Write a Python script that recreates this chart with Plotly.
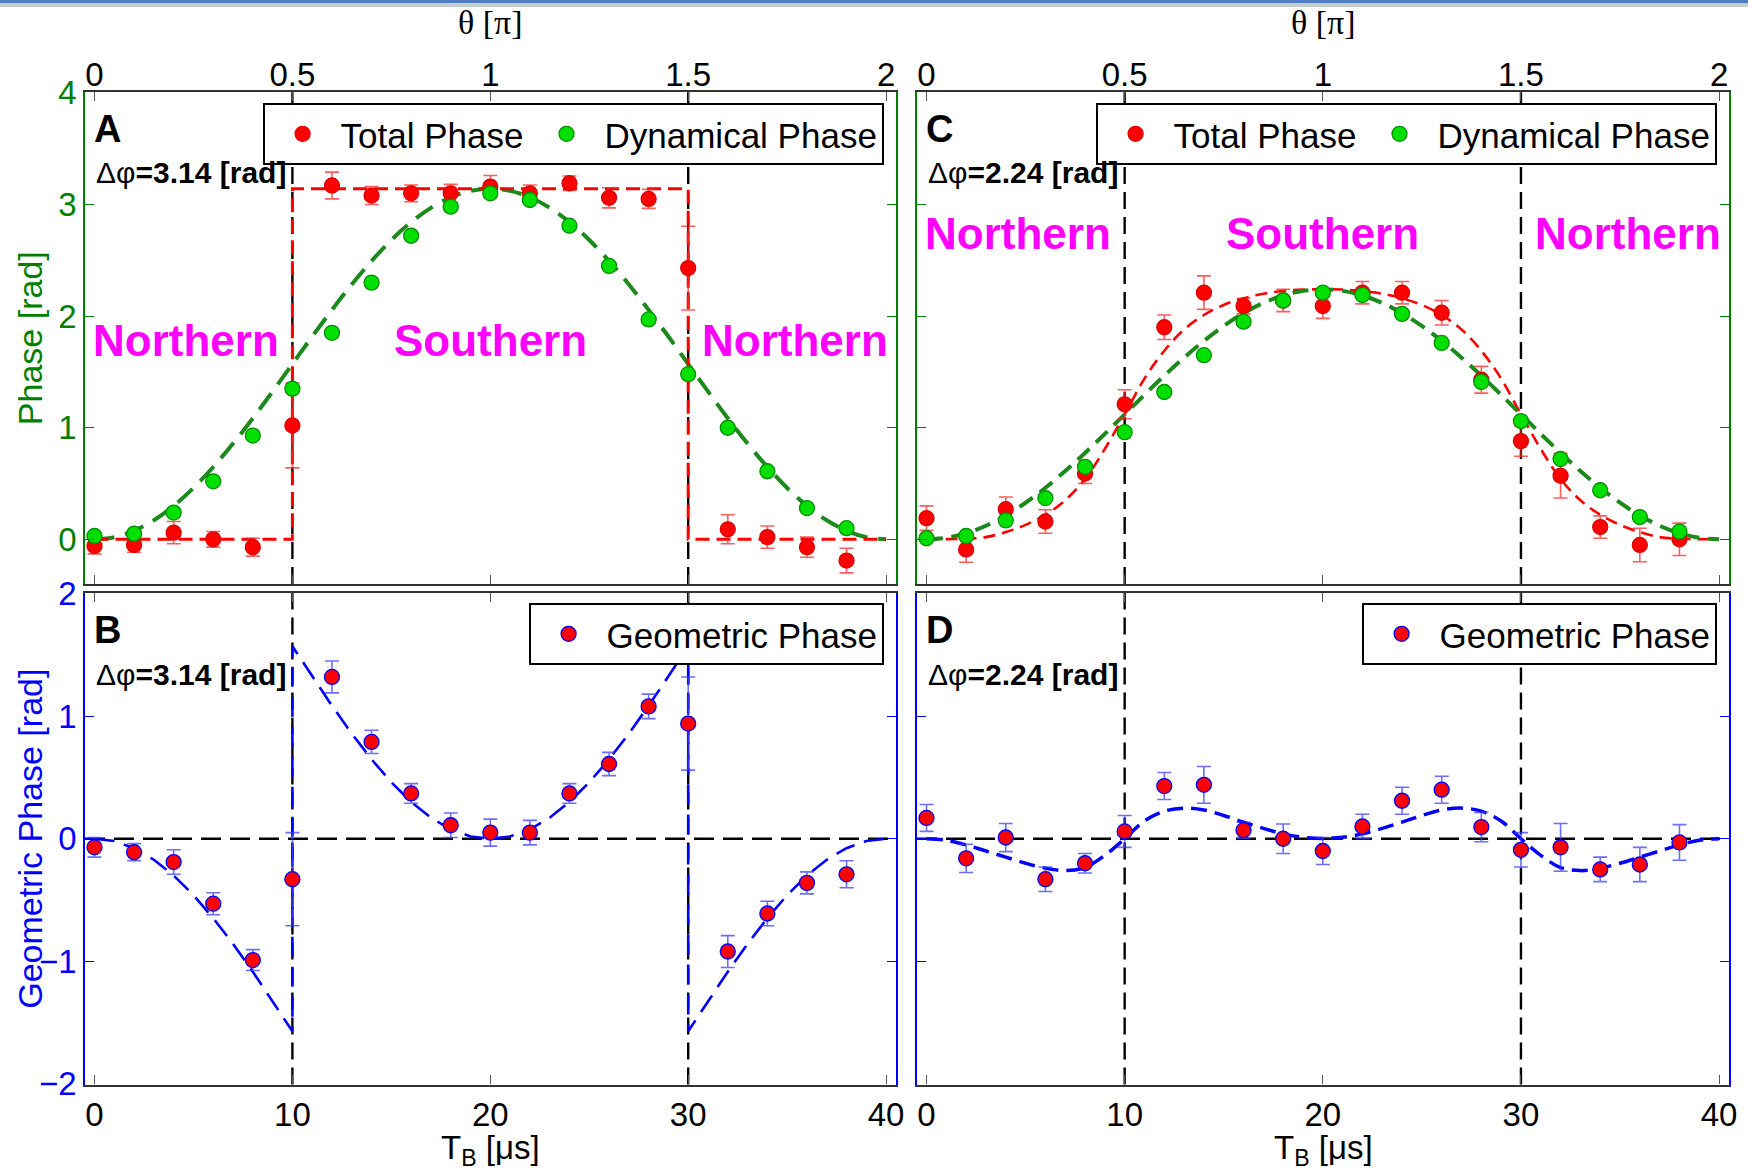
import plotly.graph_objects as go

# ---------------- data ----------------
T_us = [0, 2, 4, 6, 8, 10, 12, 14, 16, 18, 20, 22, 24, 26, 28, 30, 32, 34, 36, 38]
theta_ticks_us = [0, 10, 20, 30, 40]
theta_labels = ["0", "0.5", "1", "1.5", "2"]
time_labels = ["0", "10", "20", "30", "40"]
boundaries_us = [10, 30]
zero_ref = 0

# Panel A (delta phi = 3.14)
total_A = [-0.06, -0.05, 0.06, 0.00, -0.07, 1.02, 3.17, 3.08, 3.10, 3.10,
           3.16, 3.10, 3.19, 3.06, 3.05, 2.43, 0.09, 0.02, -0.07, -0.19]
total_A_err = [0.07, 0.065, 0.10, 0.07, 0.08, 0.38, 0.12, 0.08, 0.075, 0.08,
               0.10, 0.075, 0.065, 0.09, 0.085, 0.375, 0.13, 0.10, 0.09, 0.11]
dyn_A = [0.03, 0.05, 0.24, 0.52, 0.93, 1.35, 1.85, 2.30, 2.72, 2.98,
         3.10, 3.04, 2.81, 2.45, 1.97, 1.48, 1.00, 0.61, 0.28, 0.10]

# Panel B (geometric, delta phi = 3.14)
geo_B = [-0.07, -0.11, -0.19, -0.53, -0.99, -0.33, 1.32, 0.79, 0.37, 0.11,
         0.05, 0.05, 0.37, 0.61, 1.08, 0.94, -0.92, -0.61, -0.36, -0.29]
geo_B_err = [0.08, 0.07, 0.10, 0.09, 0.085, 0.38, 0.13, 0.095, 0.08, 0.10,
             0.11, 0.10, 0.08, 0.095, 0.10, 0.38, 0.13, 0.10, 0.09, 0.11]

# Panel C (delta phi = 2.24)
total_C = [0.19, -0.09, 0.27, 0.16, 0.59, 1.21, 1.90, 2.21, 2.09, 2.14,
           2.09, 2.21, 2.21, 2.03, 1.43, 0.88, 0.57, 0.11, -0.05, 0.00]
total_C_err = [0.11, 0.115, 0.11, 0.105, 0.09, 0.13, 0.11, 0.15, 0.07, 0.10,
               0.11, 0.10, 0.10, 0.11, 0.12, 0.135, 0.20, 0.10, 0.15, 0.145]
dyn_C = [0.01, 0.03, 0.17, 0.37, 0.65, 0.96, 1.32, 1.65, 1.95, 2.14,
         2.21, 2.19, 2.02, 1.76, 1.41, 1.06, 0.72, 0.44, 0.20, 0.07]

# Panel D (geometric, delta phi = 2.24)
geo_D = [0.17, -0.16, 0.01, -0.33, -0.20, 0.06, 0.43, 0.44, 0.07, 0.00,
         -0.10, 0.10, 0.31, 0.40, 0.095, -0.09, -0.07, -0.25, -0.21, -0.03]
geo_D_err = [0.11, 0.115, 0.115, 0.10, 0.08, 0.13, 0.11, 0.15, 0.065, 0.12,
             0.11, 0.10, 0.11, 0.11, 0.12, 0.14, 0.195, 0.10, 0.14, 0.145]

# Fitted (dashed) curves, read at 1 us steps
fit_x = [0, 1, 2, 3, 4, 5, 6, 7, 8, 9, 10, 11, 12, 13, 14, 15, 16, 17, 18, 19, 20,
         21, 22, 23, 24, 25, 26, 27, 28, 29, 30, 31, 32, 33, 34, 35, 36, 37, 38, 39, 40]
dyn_fit_A = [0.000, 0.019, 0.077, 0.171, 0.300, 0.460, 0.648, 0.858, 1.085, 1.325, 1.571,
             1.817, 2.056, 2.284, 2.494, 2.682, 2.842, 2.970, 3.065, 3.122, 3.142,
             3.122, 3.065, 2.970, 2.842, 2.682, 2.494, 2.284, 2.056, 1.817, 1.571,
             1.325, 1.085, 0.858, 0.648, 0.460, 0.300, 0.171, 0.077, 0.019, 0.000]
total_fit_A_x = [0, 10, 10, 30, 30, 40]
total_fit_A_y = [0.0, 0.0, 3.14, 3.14, 0.0, 0.0]

geo_fit_B_x = [0, 1, 2, 3, 4, 5, 6, 7, 8, 9, 10,
               10, 11, 12, 13, 14, 15, 16, 17, 18, 19, 20, 21, 22, 23, 24, 25, 26, 27, 28, 29, 30,
               30, 31, 32, 33, 34, 35, 36, 37, 38, 39, 40]
geo_fit_B_y = [0.000, -0.019, -0.077, -0.171, -0.300, -0.460, -0.648, -0.858, -1.085, -1.325, -1.571,
               1.571, 1.325, 1.085, 0.858, 0.648, 0.460, 0.300, 0.171, 0.077, 0.019, 0.000,
               0.019, 0.077, 0.171, 0.300, 0.460, 0.648, 0.858, 1.085, 1.325, 1.571,
               -1.571, -1.325, -1.085, -0.858, -0.648, -0.460, -0.300, -0.171, -0.077, -0.019, 0.000]

dyn_fit_C = [0.000, 0.014, 0.055, 0.122, 0.214, 0.328, 0.462, 0.612, 0.774, 0.945, 1.120,
             1.295, 1.466, 1.628, 1.778, 1.912, 2.026, 2.118, 2.185, 2.226, 2.240,
             2.226, 2.185, 2.118, 2.026, 1.912, 1.778, 1.628, 1.466, 1.295, 1.120,
             0.945, 0.774, 0.612, 0.462, 0.328, 0.214, 0.122, 0.055, 0.014, 0.000]
total_fit_C = [0.000, 0.002, 0.005, 0.020, 0.065, 0.130, 0.220, 0.350, 0.540, 0.810, 1.120,
               1.440, 1.690, 1.880, 2.010, 2.100, 2.160, 2.200, 2.225, 2.238, 2.240,
               2.238, 2.225, 2.200, 2.160, 2.100, 2.010, 1.880, 1.690, 1.440, 1.120,
               0.810, 0.540, 0.350, 0.220, 0.130, 0.065, 0.020, 0.005, 0.002, 0.000]
geo_fit_D = [0.000, -0.012, -0.050, -0.100, -0.150, -0.200, -0.240, -0.260, -0.235, -0.135, 0.000,
             0.145, 0.225, 0.250, 0.235, 0.190, 0.135, 0.085, 0.040, 0.012, 0.003,
             0.012, 0.040, 0.085, 0.135, 0.190, 0.235, 0.250, 0.225, 0.145, 0.000,
             -0.135, -0.235, -0.260, -0.240, -0.200, -0.150, -0.100, -0.050, -0.012, 0.000]

region_names = ["Northern", "Southern", "Northern"]
region_x_us = [4.6, 20.0, 35.4]
region_y_A = 1.78
region_y_C = 2.74
delta_phi_A = "3.14"
delta_phi_C = "2.24"

# ---------------- styling ----------------
W, H = 1748, 1176
GREEN_AX = "#008000"
BLUE_AX = "#0000ff"
FIT_GREEN = "#1b8a1b"
PT_GREEN = "#00e000"
PT_GREEN_EDGE = "#009000"
RED = "#ff0000"
MAGENTA = "#ff00ff"
SANS = "Liberation Sans, Arial, Helvetica, sans-serif"
SERIF = "Liberation Serif, Times New Roman, serif"


def px_x(p):
    return p / W


def px_y(p):
    return (H - p) / H


xdom_L = [px_x(85), px_x(896)]
xdom_R = [px_x(917), px_x(1729)]
ydom_T = [px_y(584), px_y(92.3)]
ydom_B = [px_y(1084.5), px_y(593)]
XR = [-0.48, 40.5]

fig = go.Figure()


def fit_line(x, y, xa, ya, color, width, dash, shape="linear"):
    fig.add_trace(go.Scatter(x=x, y=y, xaxis=xa, yaxis=ya, mode="lines",
                             line=dict(color=color, width=width, dash=dash, shape=shape),
                             showlegend=False, hoverinfo="skip"))


def points(y, err, xa, ya, name, fill, edge, errcolor, legend, size=15):
    kw = {}
    if err is not None:
        kw["error_y"] = dict(type="data", array=err, visible=True, color=errcolor,
                             thickness=1.6, width=7)
    fig.add_trace(go.Scatter(x=T_us, y=y, xaxis=xa, yaxis=ya, mode="markers", name=name,
                             marker=dict(color=fill, size=size, line=dict(color=edge, width=1.3)),
                             legend=legend, **kw))


# Panel A
fit_line(fit_x, dyn_fit_A, "x", "y", FIT_GREEN, 4, "20px,11px", "spline")
fit_line(total_fit_A_x, total_fit_A_y, "x", "y", RED, 3, "14px,7px")
points(total_A, total_A_err, "x", "y", "Total Phase", RED, "#dd0000", "rgba(255,40,40,0.75)", "legend")
points(dyn_A, None, "x", "y", "Dynamical Phase", PT_GREEN, PT_GREEN_EDGE, None, "legend")

# Panel B
fit_line(geo_fit_B_x, geo_fit_B_y, "x2", "y2", BLUE_AX, 2.6, "20px,10px")
points(geo_B, geo_B_err, "x2", "y2", "Geometric Phase", RED, BLUE_AX, "rgba(60,60,255,0.75)", "legend3")

# Panel C
fit_line(fit_x, total_fit_C, "x3", "y3", RED, 2.6, "12px,7px", "spline")
fit_line(fit_x, dyn_fit_C, "x3", "y3", FIT_GREEN, 4, "16px,9px", "spline")
points(total_C, total_C_err, "x3", "y3", "Total Phase", RED, "#dd0000", "rgba(255,40,40,0.75)", "legend2")
points(dyn_C, None, "x3", "y3", "Dynamical Phase", PT_GREEN, PT_GREEN_EDGE, None, "legend2")

# Panel D
fit_line(fit_x, geo_fit_D, "x4", "y4", BLUE_AX, 3.5, "16px,8px", "spline")
points(geo_D, geo_D_err, "x4", "y4", "Geometric Phase", RED, BLUE_AX, "rgba(60,60,255,0.75)", "legend4")

# dashed boundary lines and zero lines
shapes = []
for xa, ya in [("x", "y"), ("x2", "y2"), ("x3", "y3"), ("x4", "y4")]:
    for b in boundaries_us:
        shapes.append(dict(type="line", xref=xa, yref=ya + " domain", x0=b, x1=b, y0=0, y1=1,
                           line=dict(color="black", width=2.4, dash="17px,8px"), layer="below"))
for xa, ya in [("x2", "y2"), ("x4", "y4")]:
    shapes.append(dict(type="line", xref=xa + " domain", yref=ya, x0=0, x1=1, y0=zero_ref, y1=zero_ref,
                       line=dict(color="black", width=2.4, dash="20px,9px"), layer="below"))
# window chrome strip at the very top
shapes.append(dict(type="rect", xref="paper", yref="paper", x0=0, x1=1, y0=px_y(3), y1=1,
                   fillcolor="#4f7fbf", line=dict(width=0), layer="above"))
shapes.append(dict(type="rect", xref="paper", yref="paper", x0=0, x1=1, y0=px_y(7), y1=px_y(3),
                   fillcolor="#c9cbcf", line=dict(width=0), layer="above"))

annotations = []
# axis titles
for xd in (xdom_L, xdom_R):
    cx = (xd[0] + xd[1]) / 2
    annotations.append(dict(xref="paper", yref="paper", x=cx, y=px_y(23), text="θ [π]",
                            showarrow=False, font=dict(family=SERIF, size=34, color="black"),
                            xanchor="center", yanchor="middle"))
    annotations.append(dict(xref="paper", yref="paper", x=cx, y=px_y(1127), text="T<sub>B</sub> [μs]",
                            showarrow=False, font=dict(family=SANS, size=33, color="black"),
                            xanchor="center", yanchor="top"))
annotations.append(dict(xref="paper", yref="paper", x=px_x(30), y=(ydom_T[0] + ydom_T[1]) / 2,
                        text="Phase [rad]", textangle=-90, showarrow=False,
                        xanchor="center", yanchor="middle",
                        font=dict(family=SANS, size=34, color=GREEN_AX)))
annotations.append(dict(xref="paper", yref="paper", x=px_x(30), y=(ydom_B[0] + ydom_B[1]) / 2,
                        text="Geometric Phase [rad]", textangle=-90, showarrow=False,
                        xanchor="center", yanchor="middle",
                        font=dict(family=SANS, size=34, color=BLUE_AX)))

# panel letters and delta-phi labels
for letter, xl, ytop, dphi in [("A", 92, 129, delta_phi_A), ("B", 92, 630, delta_phi_A),
                               ("C", 924, 129, delta_phi_C), ("D", 924, 630, delta_phi_C)]:
    annotations.append(dict(xref="paper", yref="paper", x=px_x(xl), y=px_y(ytop), text="<b>%s</b>" % letter,
                            showarrow=False, xanchor="left", yanchor="middle",
                            font=dict(family=SANS, size=38, color="black")))
    annotations.append(dict(xref="paper", yref="paper", x=px_x(xl + 2), y=px_y(ytop + 44),
                            text="Δφ<b>=%s [rad]</b>" % dphi,
                            showarrow=False, xanchor="left", yanchor="middle",
                            font=dict(family=SANS, size=30, color="black")))

# hemisphere labels
for xa, ya, yv in [("x", "y", region_y_A), ("x3", "y3", region_y_C)]:
    for nm, xv in zip(region_names, region_x_us):
        annotations.append(dict(xref=xa, yref=ya, x=xv, y=yv, text="<b>%s</b>" % nm, showarrow=False,
                                xanchor="center", yanchor="middle",
                                font=dict(family=SANS, size=44, color=MAGENTA)))


def xaxis(domain, anchor, side, labels):
    d = dict(domain=domain, anchor=anchor, side=side, range=XR, tickmode="array",
             tickvals=theta_ticks_us, ticktext=labels, ticks="inside", ticklen=9, tickwidth=1.3,
             tickcolor="#555555", showline=True, linecolor="#333333", linewidth=2.2, mirror="ticks",
             showgrid=False, zeroline=False, automargin=False,
             tickfont=dict(family=SANS, size=33, color="black"), fixedrange=True)
    if side == "top":
        d["ticklabelstandoff"] = -9
    return d


def yaxis(domain, anchor, rng, tickvals, color, showlabels):
    return dict(domain=domain, anchor=anchor, range=rng, tickmode="array", tickvals=tickvals,
                ticks="inside", ticklen=9, tickwidth=1.3, tickcolor=color, showline=True,
                linecolor=color, linewidth=1.6, mirror="ticks", showgrid=False, zeroline=False,
                automargin=False, showticklabels=showlabels,
                tickfont=dict(family=SANS, size=33, color=color), fixedrange=True)


def legend_box(xr, ytop):
    return dict(x=px_x(xr), y=px_y(ytop), xanchor="right", yanchor="top", orientation="h",
                bgcolor="white", bordercolor="black", borderwidth=1.6, itemwidth=66,
                font=dict(family=SANS, size=35, color="black"), itemclick=False)


fig.update_layout(
    width=W, height=H, margin=dict(l=0, r=0, t=0, b=0),
    paper_bgcolor="white", plot_bgcolor="white", showlegend=True,
    xaxis=xaxis(xdom_L, "y", "top", theta_labels),
    xaxis2=xaxis(xdom_L, "y2", "bottom", time_labels),
    xaxis3=xaxis(xdom_R, "y3", "top", theta_labels),
    xaxis4=xaxis(xdom_R, "y4", "bottom", time_labels),
    yaxis=yaxis(ydom_T, "x", [-0.4, 4.005], [0, 1, 2, 3, 4], GREEN_AX, True),
    yaxis2=yaxis(ydom_B, "x2", [-2.005, 2.005], [-2, -1, 0, 1, 2], BLUE_AX, True),
    yaxis3=yaxis(ydom_T, "x3", [-0.4, 4.005], [0, 1, 2, 3, 4], GREEN_AX, False),
    yaxis4=yaxis(ydom_B, "x4", [-2.005, 2.005], [-2, -1, 0, 1, 2], BLUE_AX, False),
    legend=legend_box(884, 103),
    legend2=legend_box(1717, 103),
    legend3=legend_box(884, 603),
    legend4=legend_box(1717, 603),
    shapes=shapes, annotations=annotations,
)

fig.write_html("out.html")
